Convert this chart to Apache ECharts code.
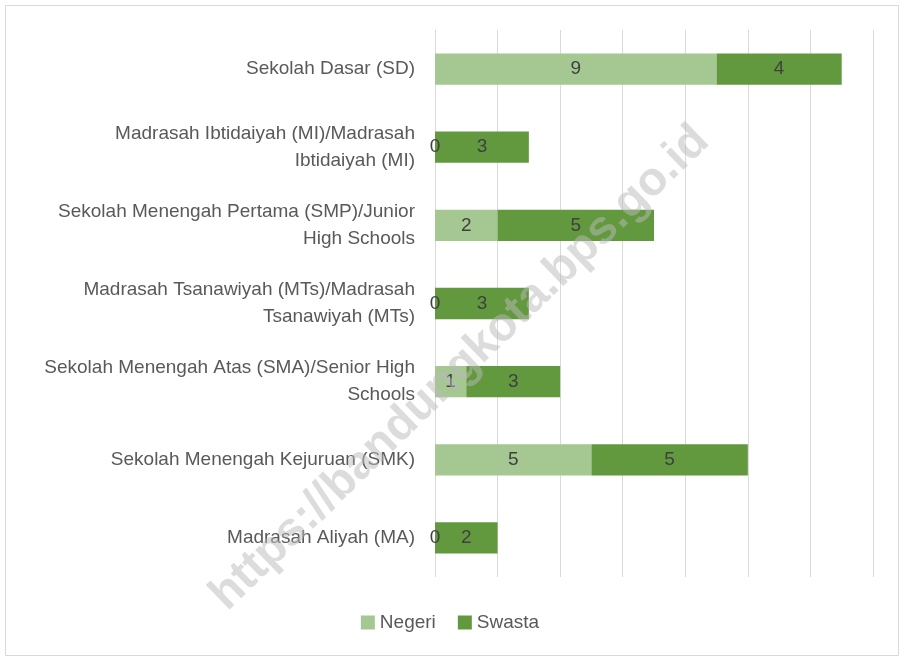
<!DOCTYPE html>
<html>
<head>
<meta charset="utf-8">
<script src="https://cdn.jsdelivr.net/npm/echarts@6/dist/echarts.min.js"></script>
<style>html,body{margin:0;padding:0;background:#fff}#c{width:900px;height:657px}</style>
</head>
<body>
<div id="c"></div>
<script>
const categories = [
  'Sekolah Dasar (SD)',
  'Madrasah Ibtidaiyah (MI)/Madrasah\nIbtidaiyah (MI)',
  'Sekolah Menengah Pertama (SMP)/Junior\nHigh Schools',
  'Madrasah Tsanawiyah (MTs)/Madrasah\nTsanawiyah (MTs)',
  'Sekolah Menengah Atas (SMA)/Senior High\nSchools',
  'Sekolah Menengah Kejuruan (SMK)',
  'Madrasah Aliyah (MA)'
];
const negeri = [9, 0, 2, 0, 1, 5, 0];
const swasta = [4, 3, 5, 3, 3, 5, 2];
const seriesNames = ['Negeri', 'Swasta'];
const watermark = 'https://bandungkota.bps.go.id';

const font = 'Liberation Sans';
const chart = echarts.init(document.getElementById('c'));
const lbl = {show: true, position: 'inside', color: '#404040', fontSize: 19, fontFamily: font};
chart.setOption({
  animation: false,
  color: ['#A5C792', '#62993E'],
  grid: {left: 435, right: 27, top: 30, bottom: 80},
  legend: {
    bottom: 20, left: 'center', itemWidth: 14, itemHeight: 14, itemGap: 22,
    icon: 'rect',
    textStyle: {color: '#595959', fontSize: 19, fontFamily: font},
    data: seriesNames
  },
  xAxis: {
    type: 'value', min: 0, max: 14, interval: 2,
    axisLabel: {show: false}, axisLine: {show: false}, axisTick: {show: false},
    splitLine: {lineStyle: {color: '#d9d9d9', width: 1}}
  },
  yAxis: {
    type: 'category', inverse: true, data: categories,
    axisLine: {show: false}, axisTick: {show: false},
    axisLabel: {color: '#595959', fontSize: 19, fontFamily: font, margin: 20, lineHeight: 27, align: 'right'}
  },
  series: [
    {name: seriesNames[0], type: 'bar', stack: 't', data: negeri, barCategoryGap: '60%', label: lbl},
    {name: seriesNames[1], type: 'bar', stack: 't', data: swasta, barCategoryGap: '60%', label: lbl}
  ],
  graphic: [
    {type: 'rect', left: 3, top: 3, shape: {width: 893, height: 650}, style: {fill: 'none', stroke: '#d9d9d9', lineWidth: 1}, z: 0},
    {type: 'text', x: 460, y: 368, rotation: Math.PI / 4 * 0.98, z: 100,
     style: {text: watermark, fill: 'rgba(185,185,185,0.5)', fontSize: 47, fontWeight: 'bold', fontFamily: font, align: 'center', verticalAlign: 'middle'}}
  ]
});
</script>
</body>
</html>
